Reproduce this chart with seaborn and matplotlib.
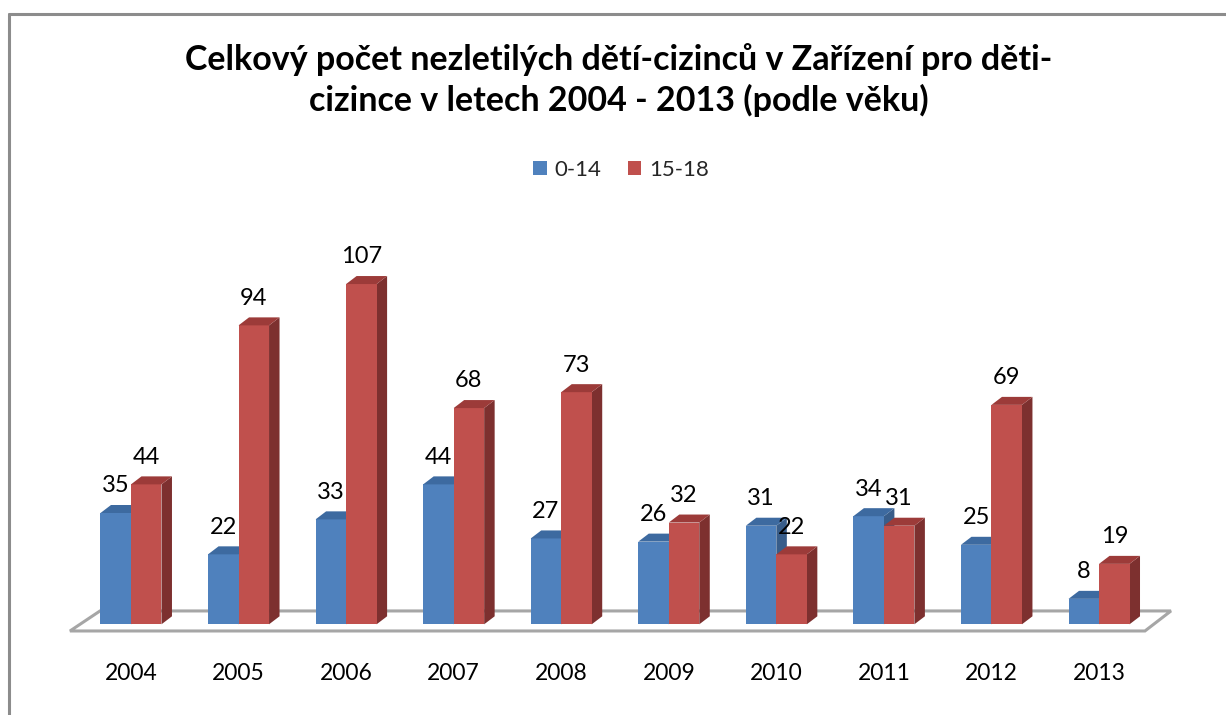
import matplotlib
matplotlib.use("Agg")
import matplotlib.pyplot as plt
from matplotlib.patches import Polygon, Rectangle
from matplotlib.lines import Line2D
import seaborn as sns
import pandas as pd

years = ["2004", "2005", "2006", "2007", "2008", "2009", "2010", "2011", "2012", "2013"]
age_0_14 = [35, 22, 33, 44, 27, 26, 31, 34, 25, 8]
age_15_18 = [44, 94, 107, 68, 73, 32, 22, 31, 69, 19]
series = ["0-14", "15-18"]
title = "Celkový počet nezletilých dětí-cizinců v Zařízení pro děti-\ncizince v letech 2004 - 2013 (podle věku)"

front = {"0-14": "#4f81bd", "15-18": "#c0504d"}
top = {"0-14": "#3d6aa0", "15-18": "#9c3b39"}
side = {"0-14": "#385d8a", "15-18": "#7d302f"}

df = pd.DataFrame({
    "year": years * 2,
    "group": [series[0]] * len(years) + [series[1]] * len(years),
    "value": age_0_14 + age_15_18,
})

sns.set_theme(style="white")
plt.rcParams["font.family"] = ["Lato", "DejaVu Sans"]

W, H = 1226, 715
fig = plt.figure(figsize=(W / 100, H / 100), dpi=100)
ax = fig.add_axes([77.2 / W, (H - 624.3) / H, 1075.6 / W, 381.6 / H])

sns.barplot(data=df, x="year", y="value", hue="group", order=years, hue_order=series,
            palette=front, width=0.567, saturation=1, ax=ax, legend=False,
            edgecolor="none", linewidth=0)

ax.set_xlim(-0.5, len(years) - 0.5)
ax.set_ylim(0, 120)
ax.axis("off")

# pseudo-3D depth in data units
dx = 10.5 / 107.56
dy = 8.0 / 3.18

# floor plane
fx0, fx1 = -0.567, 9.427
bx0, bx1 = -0.288, 9.669
floor = Polygon([(fx0, -2.1), (fx1, -2.1), (bx1, 4.2), (bx0, 4.2)], closed=True,
                facecolor="white", edgecolor="#a6a6a6", linewidth=2.2, zorder=0.5,
                clip_on=False)
ax.add_patch(floor)

n = len(years)
bar_patches = [p for p in ax.patches if p is not floor]
for i, p in enumerate(bar_patches[: 2 * n]):
    g = series[i // n]
    base_z = 1 if g == series[0] else 2
    p.set_zorder(base_z)
    x0 = p.get_x()
    x1 = x0 + p.get_width()
    h = p.get_height()
    sd = Polygon([(x1, 0), (x1 + dx, dy), (x1 + dx, h + dy), (x1, h)], closed=True,
                 facecolor=side[g], edgecolor="none", zorder=base_z - 0.2, clip_on=False)
    tp = Polygon([(x0, h), (x1, h), (x1 + dx, h + dy), (x0 + dx, h + dy)], closed=True,
                 facecolor=top[g], edgecolor="none", zorder=base_z + 0.1, clip_on=False)
    ax.add_patch(sd)
    ax.add_patch(tp)
    ax.annotate(f"{int(h)}", (x0 + p.get_width() / 2, h), xytext=(0, 19.5), textcoords="offset points",
                ha="center", va="center", fontsize=17, color="black", zorder=5,
                annotation_clip=False)

# category labels
for i, y in enumerate(years):
    ax.annotate(y, (i, 0), xytext=(0, -35.5), textcoords="offset points", ha="center",
                va="center", fontsize=16.5, color="black", annotation_clip=False)

fig.text(0.505, 1 - 80 / H, title, ha="center", va="center", fontsize=24.5,
         fontweight="bold", linespacing=1.3, color="black")

handles = [Rectangle((0, 0), 1, 1, facecolor=front[s], edgecolor="none") for s in series]
fig.legend(handles, series, loc="center", bbox_to_anchor=(621 / W, 1 - 170 / H), ncol=2,
           frameon=False, fontsize=16, handlelength=0.6, handleheight=0.6,
           handletextpad=0.35, columnspacing=1.2)

# chart border
fig.add_artist(Line2D([8.5 / W, 8.5 / W], [0, 1 - 14 / H], color="#8c8c8c", lw=2.2))
fig.add_artist(Line2D([8.5 / W, 1], [1 - 14 / H, 1 - 14 / H], color="#8c8c8c", lw=2.2))

fig.savefig("out.png", dpi=100, facecolor="white")
